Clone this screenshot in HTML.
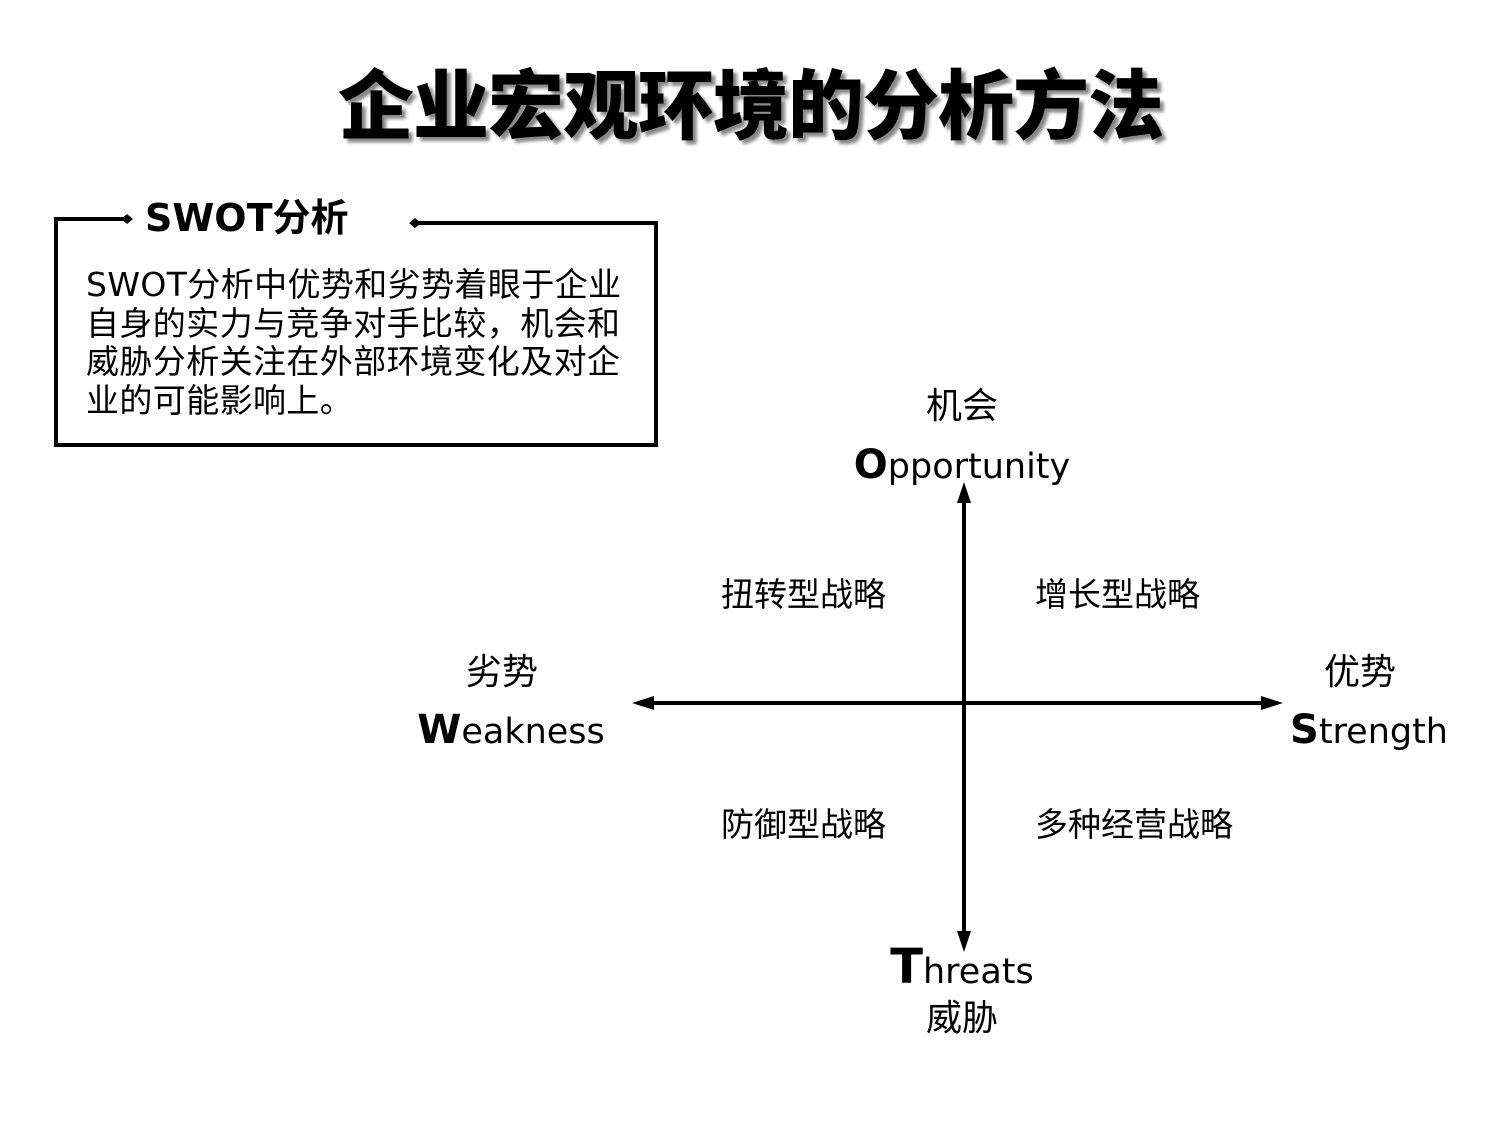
<!DOCTYPE html>
<html><head><meta charset="utf-8"><style>
body{margin:0;width:1500px;height:1125px;background:#fff;position:relative;overflow:hidden;font-family:"DejaVu Sans","Noto Sans CJK SC",sans-serif;color:#000}
.a{position:absolute;white-space:nowrap}
.c{position:absolute;white-space:nowrap;text-align:center;transform:translateX(-50%)}
.t span{display:inline-block;width:75px;text-align:center}
</style></head><body>
<div class="a t" style="left:338px;top:50px;font-family:'Noto Sans CJK SC',sans-serif;font-weight:900;font-size:76px;line-height:100px;text-shadow:4px 4px 3px #888"><span>企</span><span>业</span><span>宏</span><span>观</span><span>环</span><span>境</span><span>的</span><span>分</span><span>析</span><span>方</span><span>法</span></div>

<svg width="1500" height="1125" style="position:absolute;left:0;top:0">
<polyline points="125,219 56,219 56,445 656,445 656,223 415,223" fill="none" stroke="#000" stroke-width="4"/>
<polygon points="121,219 127,214 133,219 127,224" fill="#000"/>
<polygon points="409,223 415,218 421,223 415,228" fill="#000"/>
<line x1="964" y1="500" x2="964" y2="935" stroke="#000" stroke-width="4"/>
<polygon points="964,482 957,503 971,503" fill="#000"/>
<polygon points="964,952 957,931 971,931" fill="#000"/>
<line x1="650" y1="703" x2="1265" y2="703" stroke="#000" stroke-width="4"/>
<polygon points="632,703 654,696 654,710" fill="#000"/>
<polygon points="1283,703 1261,696 1261,710" fill="#000"/>
</svg>

<div class="a" style="left:145px;top:190px;font-weight:bold;font-size:38px;line-height:50px">SWOT<span style="font-family:'Noto Sans CJK SC',sans-serif">分析</span></div>
<div class="a" style="left:86px;top:266px;font-family:'DejaVu Sans','Noto Sans CJK SC',sans-serif;font-size:33px;line-height:38.5px;letter-spacing:0.4px">SWOT分析中优势和劣势着眼于企业<br>自身的实力与竞争对手比较，机会和<br>威胁分析关注在外部环境变化及对企<br>业的可能影响上。</div>

<div class="c" style="left:962px;top:384px;font-size:36px;line-height:46px">机会</div>
<div class="c" style="left:962px;top:442px;font-size:35px;line-height:46px"><b style="font-size:40px">O</b>pportunity</div>
<div class="c" style="left:502px;top:650px;font-size:36px;line-height:46px">劣势</div>
<div class="c" style="left:511px;top:707px;font-size:35px;line-height:46px"><b style="font-size:40px">W</b>eakness</div>
<div class="c" style="left:1360px;top:650px;font-size:36px;line-height:46px">优势</div>
<div class="c" style="left:1369px;top:707px;font-size:35px;line-height:46px"><b style="font-size:40px">S</b>trength</div>
<div class="c" style="left:962px;top:942px;font-size:35px;line-height:50px"><b style="font-size:48px">T</b>hreats</div>
<div class="c" style="left:962px;top:996px;font-size:36px;line-height:46px">威胁</div>

<div class="a" style="left:721px;top:573px;font-size:33px;line-height:44px">扭转型战略</div>
<div class="a" style="left:1035px;top:573px;font-size:33px;line-height:44px">增长型战略</div>
<div class="a" style="left:721px;top:803px;font-size:33px;line-height:44px">防御型战略</div>
<div class="a" style="left:1035px;top:803px;font-size:33px;line-height:44px">多种经营战略</div>
</body></html>
